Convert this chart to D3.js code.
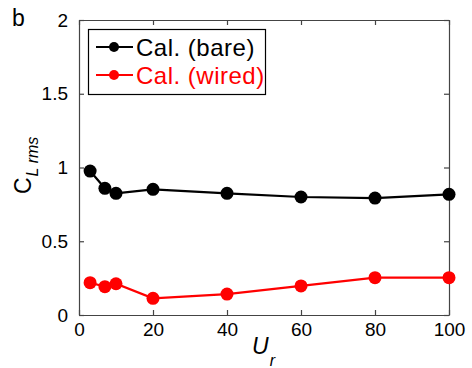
<!DOCTYPE html>
<html>
<head>
<meta charset="utf-8">
<script src="https://cdn.jsdelivr.net/npm/d3@7"></script>
<style>
  html, body { margin: 0; padding: 0; background: #fff; }
  svg { display: block; font-family: "Liberation Sans", Arial, Helvetica, sans-serif; }
</style>
</head>
<body>
<svg id="chart" width="472" height="368"></svg>
<script>
// Reduced velocity values
const ur = [3, 7, 10, 20, 40, 60, 80, 100];
// RMS lift coefficient, bare cylinder
const clBare = [0.976, 0.859, 0.825, 0.852, 0.825, 0.800, 0.793, 0.818];
// RMS lift coefficient, wired cylinder
const clWired = [0.219, 0.192, 0.212, 0.113, 0.142, 0.197, 0.253, 0.253];

const xTicks = [0, 20, 40, 60, 80, 100];
const yTicks = [0, 0.5, 1, 1.5, 2];
const yTickLabels = ["0", "0.5", "1", "1.5", "2"];

const seriesNames = ["Cal. (bare)", "Cal. (wired)"];
const seriesColors = ["#000000", "#ff0000"];

const svg = d3.select("#chart");
const plot = { left: 79, right: 449, top: 20, bottom: 315 };
const axisColor = "#444";

const x = d3.scaleLinear().domain([0, 100]).range([plot.left, plot.right]);
const y = d3.scaleLinear().domain([0, 2]).range([plot.bottom, plot.top]);

// Axes with inward ticks on all four sides
const tickLen = 5;
const axes = [
  { gen: d3.axisBottom(x).tickValues(xTicks).tickSizeInner(-tickLen).tickSizeOuter(0), t: `translate(0,${plot.bottom})`, labels: true },
  { gen: d3.axisTop(x).tickValues(xTicks).tickSizeInner(-tickLen).tickSizeOuter(0), t: `translate(0,${plot.top})`, labels: false },
  { gen: d3.axisLeft(y).tickValues(yTicks).tickSizeInner(-tickLen).tickSizeOuter(0), t: `translate(${plot.left},0)`, labels: true },
  { gen: d3.axisRight(y).tickValues(yTicks).tickSizeInner(-tickLen).tickSizeOuter(0), t: `translate(${plot.right},0)`, labels: false }
];
axes.forEach((a, i) => {
  const g = svg.append("g").attr("transform", a.t).call(a.gen);
  g.select(".domain").attr("stroke", axisColor).attr("stroke-width", 1.2);
  g.selectAll(".tick line").attr("stroke", axisColor).attr("stroke-width", 1.2);
  if (!a.labels) {
    g.selectAll(".tick text").remove();
  } else {
    g.selectAll(".tick text")
      .attr("fill", "#000")
      .attr("font-size", 19)
      .attr("font-family", "Liberation Sans, Arial, sans-serif");
    if (i === 0) g.selectAll(".tick text").attr("y", 8).attr("dy", "0.71em");
    if (i === 2) g.selectAll(".tick text").attr("x", -11).text((d, k) => yTickLabels[k]);
  }
});

// Data series
const line = d3.line().x((d, i) => x(ur[i])).y(d => y(d));
[clBare, clWired].forEach((vals, s) => {
  svg.append("path")
    .datum(vals)
    .attr("d", line)
    .attr("fill", "none")
    .attr("stroke", seriesColors[s])
    .attr("stroke-width", 2.2);
  svg.append("g").selectAll("circle")
    .data(vals)
    .join("circle")
    .attr("cx", (d, i) => x(ur[i]))
    .attr("cy", d => y(d))
    .attr("r", 6.5)
    .attr("fill", seriesColors[s]);
});

// Legend
const legend = svg.append("g");
legend.append("rect")
  .attr("x", 88.5).attr("y", 29.5)
  .attr("width", 177).attr("height", 65)
  .attr("fill", "#fff")
  .attr("stroke", "#000")
  .attr("stroke-width", 1.2);
const legendRows = [47, 75];
seriesNames.forEach((name, s) => {
  const ly = legendRows[s];
  legend.append("line")
    .attr("x1", 96).attr("x2", 133)
    .attr("y1", ly).attr("y2", ly)
    .attr("stroke", seriesColors[s])
    .attr("stroke-width", 2.2);
  legend.append("circle")
    .attr("cx", 114).attr("cy", ly).attr("r", 5)
    .attr("fill", seriesColors[s]);
  legend.append("text")
    .attr("x", 136).attr("y", ly)
    .attr("dy", "0.36em")
    .attr("font-size", 24)
    .attr("letter-spacing", 0.5)
    .attr("fill", seriesColors[s])
    .text(name);
});

// Axis titles
const xTitle = svg.append("text")
  .attr("x", 252).attr("y", 354)
  .attr("font-size", 23);
xTitle.append("tspan").attr("font-style", "italic").text("U");
xTitle.append("tspan").attr("font-style", "italic").attr("font-size", 16).attr("dy", 12).attr("dx", 1).text("r");

const yTitle = svg.append("text")
  .attr("transform", "translate(31,194) rotate(-90)")
  .attr("font-size", 23);
yTitle.append("tspan").text("C");
yTitle.append("tspan").attr("font-style", "italic").attr("font-size", 16).attr("dy", 7).attr("dx", 1).text("L rms");

// Panel label
svg.append("text")
  .attr("x", 12).attr("y", 26)
  .attr("font-size", 23)
  .text("b");
</script>
</body>
</html>
